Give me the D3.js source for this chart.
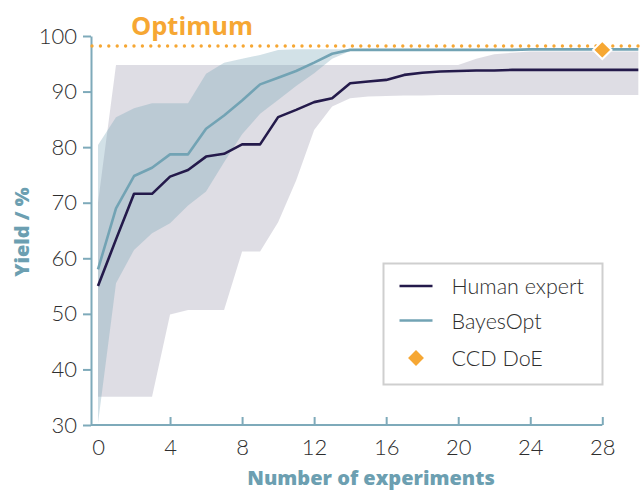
<!DOCTYPE html>
<html>
<head>
<meta charset="utf-8">
<script src="https://cdn.jsdelivr.net/npm/d3@7"></script>
<style>
  html, body { margin: 0; padding: 0; background: #ffffff; }
  svg { display: block; }
</style>
</head>
<body>
<svg id="chart" width="643" height="491"></svg>
<script>
// ---------------- data ----------------
const experiments = d3.range(0, 31); // 0..30
const humanExpert = [55, 63.4, 71.6, 71.6, 74.7, 75.9, 78.3, 78.8, 80.5, 80.5, 85.4, 86.7, 88.1, 88.8, 91.5, 91.8, 92.1, 93.0, 93.4, 93.6, 93.7, 93.8, 93.8, 93.9, 93.9, 93.9, 93.9, 93.9, 93.9, 93.9, 93.9];
const humanUpper  = [70, 94.8, 94.8, 94.8, 94.8, 94.8, 94.8, 94.8, 94.8, 94.8, 94.8, 94.8, 94.8, 94.8, 94.8, 94.8, 94.8, 94.8, 94.8, 94.8, 94.8, 95.9, 96.7, 97.0, 97.2, 97.2, 97.2, 97.2, 97.2, 97.2, 97.2];
const humanLower  = [35.1, 35.1, 35.1, 35.1, 49.9, 50.7, 50.7, 50.7, 61.2, 61.2, 66.5, 74.0, 83.1, 87.3, 88.8, 89.1, 89.2, 89.3, 89.3, 89.4, 89.4, 89.4, 89.4, 89.4, 89.4, 89.4, 89.4, 89.4, 89.4, 89.4, 89.4];
const bayesOpt    = [58, 69, 74.8, 76.3, 78.7, 78.7, 83.3, 85.7, 88.4, 91.3, 92.5, 93.7, 95.2, 96.8, 97.5, 97.5, 97.5, 97.5, 97.5, 97.5, 97.5, 97.5, 97.5, 97.5, 97.6, 97.6, 97.6, 97.6, 97.6, 97.6, 97.6];
const bayesUpper  = [80.4, 85.4, 87.0, 87.9, 87.9, 87.9, 93.2, 95.2, 95.9, 96.6, 97.5, 97.6, 97.6, 97.6, 97.6, 97.6, 97.6, 97.6, 97.6, 97.6, 97.6, 97.6, 97.6, 97.6, 97.6, 97.6, 97.6, 97.6, 97.6, 97.6, 97.6];
const bayesLower  = [30.3, 55.5, 61.5, 64.5, 66.3, 69.5, 72.0, 77.3, 82.3, 86.0, 88.5, 91.0, 93.3, 95.9, 97.3, 97.5, 97.5, 97.5, 97.5, 97.5, 97.5, 97.5, 97.5, 97.5, 97.5, 97.5, 97.5, 97.5, 97.5, 97.5, 97.5];
const ccdDoE = [{ x: 28, y: 97.5 }];
const optimum = 98.2;
const xTicks = [0, 4, 8, 12, 16, 20, 24, 28];
const yTicks = [30, 40, 50, 60, 70, 80, 90, 100];
const legendItems = ["Human expert", "BayesOpt", "CCD DoE"];

// ---------------- style ----------------
const C = {
  human: "#241a4b",
  bayes: "#72a3b4",
  axis: "#7eaaba",
  title: "#6c9fb1",
  orange: "#f6a733",
  text: "#2e2e2e"
};
const FONT = "Lato, 'Open Sans', sans-serif";
const BOLD = "'Open Sans', Lato, sans-serif";

const svg = d3.select("#chart");
const W = 643, H = 491;
const axisLeftX = 91;

const x = d3.scaleLinear().domain([0, 28]).range([98, 602.3]);
const y = d3.scaleLinear().domain([30, 100]).range([425, 36]);

const rows = experiments.map((e, i) => ({
  x: e, h: humanExpert[i], hu: humanUpper[i], hl: humanLower[i],
  b: bayesOpt[i], bu: bayesUpper[i], bl: bayesLower[i]
}));

// ---------------- axes ----------------
const yAxis = d3.axisLeft(y).tickValues(yTicks).tickSizeInner(8).tickSizeOuter(0).tickPadding(6);
const gy = svg.append("g").attr("transform", `translate(${axisLeftX},0)`).call(yAxis);
gy.select(".domain").attr("stroke", C.axis).attr("stroke-width", 2);
gy.selectAll(".tick line").attr("stroke", C.axis).attr("stroke-width", 2);
gy.selectAll(".tick text").attr("fill", C.text).attr("font-family", FONT)
  .attr("font-size", 22).attr("font-weight", 300);

const xAxis = d3.axisBottom(x).tickValues(xTicks).tickSizeInner(-8).tickSizeOuter(0).tickPadding(14);
const gx = svg.append("g").attr("transform", `translate(0,${y(30)})`).call(xAxis);
gx.select(".domain").remove();
gx.append("line").attr("x1", axisLeftX).attr("x2", x(28)).attr("y1", 0).attr("y2", 0)
  .attr("stroke", C.axis).attr("stroke-width", 2);
gx.selectAll(".tick line").attr("stroke", C.axis).attr("stroke-width", 2)
  .attr("display", d => d === 0 ? "none" : null);
gx.selectAll(".tick text").attr("fill", C.text).attr("font-family", FONT)
  .attr("font-size", 22).attr("font-weight", 300);

// ---------------- bands ----------------
const humanArea = d3.area()
  .x(d => x(d.x)).y0(d => y(d.hl)).y1(d => y(d.hu));
const bayesArea = d3.area()
  .x(d => x(d.x)).y0(d => y(d.bl)).y1(d => y(d.bu));

svg.append("path").datum(rows).attr("d", humanArea)
  .attr("fill", C.human).attr("fill-opacity", 0.15);
svg.append("path").datum(rows).attr("d", bayesArea)
  .attr("fill", C.bayes).attr("fill-opacity", 0.32);

// ---------------- optimum ----------------
svg.append("line")
  .attr("x1", axisLeftX + 1).attr("x2", W)
  .attr("y1", y(optimum)).attr("y2", y(optimum))
  .attr("stroke", C.orange).attr("stroke-width", 3.4)
  .attr("stroke-linecap", "round").attr("stroke-dasharray", "0 8.4");
svg.append("text").attr("x", 192).attr("y", 35)
  .attr("text-anchor", "middle").attr("fill", C.orange)
  .attr("font-family", BOLD).attr("font-weight", 700).attr("font-size", 25.5)
  .text("Optimum");

// ---------------- lines ----------------
const humanLine = d3.line().x(d => x(d.x)).y(d => y(d.h));
const bayesLine = d3.line().x(d => x(d.x)).y(d => y(d.b));
svg.append("path").datum(rows).attr("d", bayesLine)
  .attr("fill", "none").attr("stroke", C.bayes).attr("stroke-width", 2.6).attr("stroke-linejoin", "round");
svg.append("path").datum(rows).attr("d", humanLine)
  .attr("fill", "none").attr("stroke", C.human).attr("stroke-width", 2.6).attr("stroke-linejoin", "round");

// ---------------- CCD DoE ----------------
const diamondType = d3.symbolDiamond2 || d3.symbolDiamond;
svg.selectAll(".ccd").data(ccdDoE).join("path")
  .attr("class", "ccd")
  .attr("transform", d => `translate(${x(d.x)},${y(d.y)})`)
  .attr("d", d3.symbol().type(diamondType).size(215)())
  .attr("fill", C.orange).attr("stroke", "#ffffff").attr("stroke-width", 2);

// ---------------- legend ----------------
const lg = svg.append("g").attr("transform", "translate(383.5,263.5)");
lg.append("rect").attr("width", 219).attr("height", 121)
  .attr("fill", "#ffffff").attr("stroke", "#cfcfcf").attr("stroke-width", 2);
const rowY = [22.5, 57, 94.5];
legendItems.forEach((name, i) => {
  const g = lg.append("g").attr("transform", `translate(0,${rowY[i]})`);
  if (i < 2) {
    g.append("line").attr("x1", 16).attr("x2", 49).attr("y1", 0).attr("y2", 0)
      .attr("stroke", i === 0 ? C.human : C.bayes).attr("stroke-width", 2.6);
  } else {
    g.append("path").attr("transform", "translate(32.5,0)")
      .attr("d", d3.symbol().type(diamondType).size(160)())
      .attr("fill", C.orange);
  }
  g.append("text").attr("x", 68).attr("y", 8)
    .attr("fill", C.text).attr("font-family", FONT).attr("font-size", 21.5).attr("font-weight", 300)
    .text(name);
});

// ---------------- axis titles ----------------
svg.append("text").attr("x", 371).attr("y", 485)
  .attr("text-anchor", "middle").attr("fill", C.title)
  .attr("font-family", BOLD).attr("font-weight", 800).attr("font-size", 20)
  .text("Number of experiments");
svg.append("text")
  .attr("transform", `translate(29,232) rotate(-90)`)
  .attr("text-anchor", "middle").attr("fill", C.title)
  .attr("font-family", BOLD).attr("font-weight", 800).attr("font-size", 20)
  .text("Yield / %");
</script>
</body>
</html>
